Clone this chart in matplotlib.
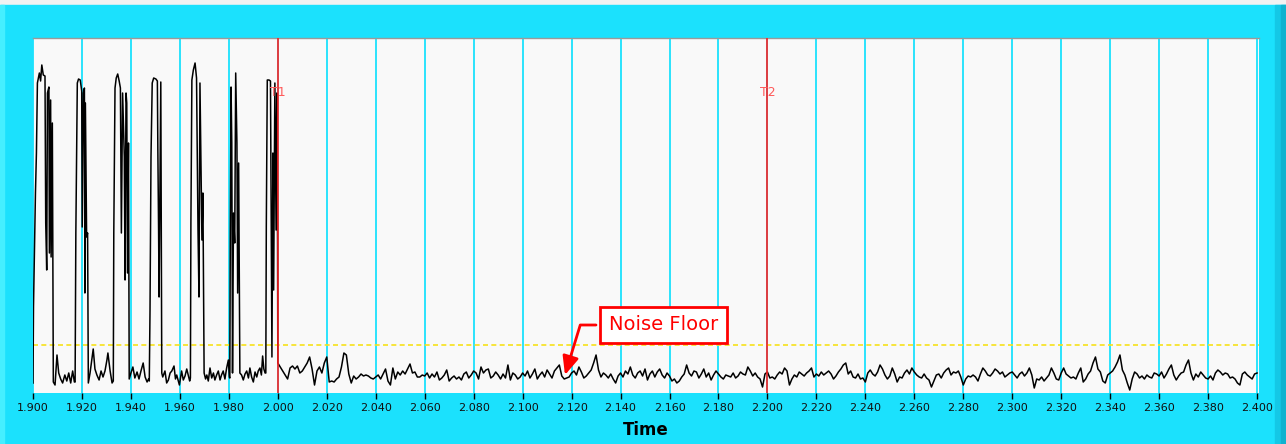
import numpy as np
import matplotlib
matplotlib.use("Agg")
import matplotlib.pyplot as plt
from matplotlib.patches import Rectangle

# burst section before T1: time offset from 1.900 s (ms) and amplitude
pre_ms = [0.0, 0.2, 1.0, 1.4, 1.8, 2.6, 3.1, 3.6, 4.2, 4.9, 5.2, 5.6, 5.9, 6.5, 6.7, 7.2, 7.4, 7.9, 8.3,
          9.0, 9.8, 10.5, 11.3, 12.1, 13.0, 13.8, 14.6, 15.4, 16.2, 16.9,
          17.2, 17.5, 18.1, 18.6, 19.3, 19.9, 20.1, 20.6, 21.0, 21.2, 21.4, 21.9, 22.3, 22.6,
          23.3, 24.6, 25.3, 26.1, 27.0, 27.8, 28.6, 29.4, 30.2, 30.6, 31.5, 32.3,
          32.8, 33.0, 33.5, 34.0, 34.6, 35.2, 35.7, 36.1, 36.6, 37.3, 37.6, 38.0, 38.3, 38.6, 39.0, 39.3,
          40.0, 40.8, 41.6, 42.5, 43.3, 44.1, 45.0, 45.8, 46.6, 47.2,
          47.5, 47.8, 48.2, 48.7, 49.3, 50.2, 50.8, 51.0, 51.3, 51.5, 52.2, 52.6, 53.0,
          53.9, 54.6, 55.3, 56.0, 56.7, 57.6, 58.2, 58.7, 59.8, 60.7, 61.4, 62.1, 62.8, 63.4, 64.0,
          64.3, 64.5, 64.9, 65.5, 66.2, 66.8, 67.1, 67.4, 67.8, 68.2, 68.6, 69.0, 69.4, 69.9,
          70.5, 71.0, 71.6, 72.3, 73.0, 73.7, 74.3, 75.0, 75.7, 76.4, 77.0, 77.7, 78.4, 79.1, 79.8, 80.2,
          80.4, 80.6, 80.9, 81.2, 81.5, 81.9, 82.4, 82.8, 83.3, 83.6, 84.0, 84.5,
          85.2, 85.9, 86.6, 87.3, 88.0, 88.6, 89.3, 90.0, 90.7, 91.4, 92.0, 92.7, 93.3, 93.8, 94.3, 94.8,
          95.1, 95.3, 95.7, 96.4, 97.0, 97.6, 98.0, 98.3, 98.8, 99.3, 99.6, 99.9]
pre_amp = [10, 86, 200, 240, 310, 320, 312, 328, 318, 317, 170, 123, 300, 306, 140, 293, 136, 270, 11,
           8, 38, 20, 14, 10, 18, 12, 20, 10, 22, 11,
           11, 160, 310, 314, 313, 302, 166, 300, 305, 100, 290, 156, 160, 10,
           20, 44, 24, 18, 13, 22, 16, 22, 33, 40, 22, 10,
           12, 160, 305, 315, 319, 312, 305, 160, 300, 236, 113, 300, 290, 120, 250, 14,
           20, 26, 15, 21, 14, 22, 30, 16, 11, 14,
           12, 83, 236, 310, 315, 314, 312, 243, 163, 96, 311, 20, 16,
           22, 10, 13, 20, 22, 27, 14, 18, 8, 22, 13, 17, 24, 18, 12,
           15, 170, 313, 323, 330, 315, 233, 163, 96, 310, 233, 153, 200, 20,
           14, 18, 12, 25, 15, 20, 13, 18, 22, 13, 18, 22, 14, 25, 33, 16,
           15, 160, 306, 250, 20, 180, 150, 320, 250, 100, 230, 20,
           18, 13, 19, 22, 15, 25, 16, 11, 21, 16, 22, 25, 18, 37, 24, 20,
           20, 166, 313, 313, 312, 36, 240, 103, 310, 163, 300, 150]

# noise after T1, one sample per ms from 2.000 s
noise_amp = [30, 26, 22, 18, 14, 25, 27, 24, 27, 20, 22, 26, 30, 36, 24, 8, 22, 26, 20, 30,
             36, 11, 12, 11, 14, 16, 26, 40, 38, 19, 10, 17, 14, 16, 19, 17, 18, 17, 15, 14,
             16, 18, 14, 19, 24, 12, 8, 25, 14, 21, 18, 22, 19, 24, 29, 20, 21, 16, 16, 18,
             17, 20, 15, 19, 16, 21, 13, 15, 18, 23, 12, 15, 17, 14, 16, 13, 19, 21, 15, 18,
             22, 20, 14, 26, 20, 23, 24, 15, 17, 21, 18, 14, 19, 15, 28, 13, 20, 18, 14, 16,
             20,
             17, 22, 15, 19, 24, 14, 18, 21, 16, 23, 19, 15, 22, 25, 28, 17, 14, 15, 16, 20,
             22, 18, 26, 21, 15, 17, 20, 23, 30, 38, 23, 16, 20, 18, 15, 19, 14, 10, 17, 20,
             16, 22, 19, 26, 18, 15, 20, 22, 17, 24, 13, 19, 22, 16, 21, 24, 18, 15, 20, 17,
             12, 14, 10, 12, 16, 19, 28, 20, 17, 22, 21, 15, 19, 24, 16, 20, 13, 18, 22, 19,
             16, 14, 18, 17, 16, 20, 15, 17, 21, 19, 18, 26, 22, 17, 20, 16, 14, 6, 19, 21,
             15, 16, 14, 18, 21, 19, 25, 22, 8, 14, 18, 16, 21, 19, 17, 20, 22, 25, 16, 19,
             17, 21, 18, 20, 22, 19, 14, 17, 21, 24, 28, 30, 19, 22, 16, 15, 19, 14, 15, 11,
             20, 23, 19, 17, 21, 28, 24, 18, 14, 17, 25, 19, 11, 16, 15, 20, 23, 19, 25, 21,
             18, 16, 15, 19, 15, 13, 6, 12, 18, 19, 15, 20, 23, 25, 18, 21, 20, 22, 16, 8,
             14, 17, 16, 18, 16, 12, 19, 25, 22, 18, 17, 20, 24, 22, 19, 21, 16, 18, 20, 21,
             18, 15, 19, 21, 17, 20, 25, 18, 5, 14, 13, 16, 12, 15, 18, 25, 20, 14, 13, 20,
             25, 19, 17, 15, 16, 14, 20, 25, 11, 14, 19, 22, 30, 36, 24, 21, 12, 10, 18, 20,
             22, 26, 31, 38, 23, 18, 10, 3, 14, 21, 19, 15, 17, 14, 18, 16, 15, 20, 19, 17,
             21, 15, 19, 24, 28, 18, 13, 17, 20, 21, 28, 33, 20, 13, 19, 16, 21, 18, 15, 14,
             17, 13, 20, 23, 21, 18, 20, 19, 15, 16, 14, 10, 8, 19, 21, 18, 16, 14, 19, 20]

cursor_times = [2.000, 2.200]
cursor_labels = ["T1", "T2"]
noise_floor = 48
tick_values = np.round(np.arange(1.900, 2.4001, 0.020), 3)

t = np.concatenate([1.900 + np.array(pre_ms) / 1000.0,
                    2.000 + np.arange(len(noise_amp)) / 1000.0])
amp = np.concatenate([pre_amp, noise_amp])

W, H = 1286, 444
fig = plt.figure(figsize=(W / 100, H / 100), dpi=100)
fig.patch.set_facecolor("#f2f2f2")

cyan = "#1be1fd"
# cyan panel with bevelled edges
fig.add_artist(Rectangle((0, 0), 1, 1 - 5 / H, transform=fig.transFigure, color=cyan, zorder=0))
fig.add_artist(Rectangle((0, 0), 4 / W, 1 - 5 / H, transform=fig.transFigure, color="#45efff", zorder=0))
fig.add_artist(Rectangle((1275 / W, 0), 11 / W, 1 - 5 / H, transform=fig.transFigure, color="#14c8e6", zorder=0))
fig.add_artist(Rectangle((1281 / W, 0), 5 / W, 1 - 5 / H, transform=fig.transFigure, color="#0fb2cf", zorder=0))

ax = fig.add_axes([33 / W, (H - 393) / H, 1226 / W, 355 / H])
ax.set_facecolor("#f9f9f9")

ax.plot(t, amp, color="black", lw=1.1, zorder=4)

for x in tick_values:
    ax.axvline(x, color=cyan, lw=1.3, zorder=2)
ax.axhline(noise_floor, color="#f7e21a", lw=1.2, ls=(0, (3, 2)), zorder=3)

for x, lab in zip(cursor_times, cursor_labels):
    ax.axvline(x, color="#ff2020", lw=1.2, zorder=5)
    ax.text(x, 300, lab, color="#ff5a5a", fontsize=9, ha="center", va="center", zorder=6)

ax.annotate("Noise Floor", xy=(2.1173, 18), xytext=(2.1574, 68),
            color="red", fontsize=14, ha="center", va="center", zorder=7,
            bbox=dict(boxstyle="square,pad=0.45", fc="white", ec="red", lw=2),
            arrowprops=dict(arrowstyle="-|>,head_length=0.8,head_width=0.35", color="red", lw=2,
                            connectionstyle="angle,angleA=0,angleB=73,rad=0", shrinkB=0))

ax.set_xlim(1.900, 2.4008)
ax.set_ylim(0, 355)
ax.set_yticks([])
ax.set_xticks(tick_values)
ax.set_xticklabels([f"{v:.3f}" for v in tick_values], fontsize=8, color="#101010")
ax.tick_params(axis="x", length=4, width=1, color="black", pad=3)
for side in ["left", "right", "bottom"]:
    ax.spines[side].set_visible(False)
ax.spines["top"].set_color("#9a9a9a")
ax.spines["top"].set_linewidth(1)

ax.set_xlabel("Time", fontsize=12, fontweight="bold", labelpad=6)

fig.savefig("out.png", dpi=100, facecolor=fig.get_facecolor())
